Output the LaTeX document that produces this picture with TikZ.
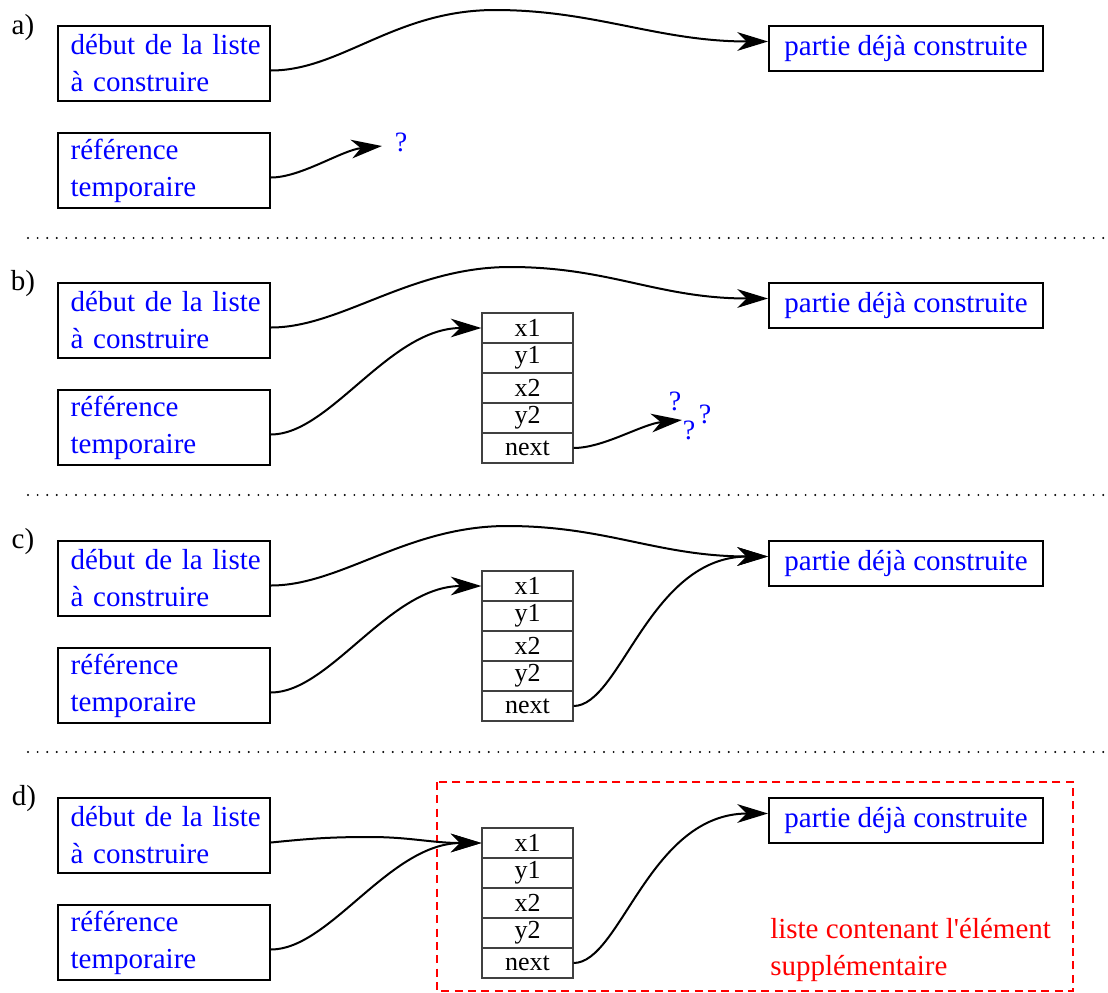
\documentclass[tikz,border=0pt]{standalone}
\usepackage{fontspec}
\setmainfont{Liberation Serif}[Ligatures=TeXOff]
\usetikzlibrary{arrows.meta}
\newcommand\bxfont{\fontsize{21.75pt}{27.75pt}\selectfont}
\newcommand\clfont{\fontsize{19.5pt}{22pt}\selectfont}
\newcommand\qmfont{\fontsize{21pt}{24pt}\selectfont}
\newcommand\lbfont{\fontsize{21.75pt}{24pt}\selectfont}
\begin{document}
\begin{tikzpicture}[x=0.75pt,y=-0.75pt,
  lbl/.style={font=\lbfont,inner sep=0pt},
  txtbox/.style={draw,line width=1.5pt,minimum width=159pt,minimum height=56.25pt,text width=140pt,inner xsep=9.5pt,align=left,text=blue,font=\bxfont},
  partbox/.style={draw,line width=1.5pt,minimum width=205.5pt,minimum height=33.75pt,inner sep=0pt,text=blue,font=\bxfont},
  cell/.style={draw=black!75,line width=0.9pt,minimum width=68.25pt,minimum height=22.5pt,inner sep=0pt,font=\clfont},
  ptr/.style={line width=1.5pt,-{Stealth[length=23pt,width=14pt,inset=7pt]}},
  qm/.style={text=blue,font=\qmfont,inner sep=0pt},
  sepline/.style={line width=1.6pt,line cap=round,dash pattern=on 0pt off 7.2pt},
  grp/.style={draw=red,line width=1.5pt,dash pattern=on 6pt off 4pt},
  grptext/.style={text=red,font=\bxfont,align=left,anchor=west,inner sep=0pt}]
\useasboundingbox (0,0) rectangle (1108,993);

% separators
\coordinate (s1a) at (28,238); \coordinate (s1b) at (1108,238);
\coordinate (s2a) at (28,495); \coordinate (s2b) at (1108,495);
\coordinate (s3a) at (28,752); \coordinate (s3b) at (1108,752);
\draw[sepline] (s1a) -- (s1b);
\draw[sepline] (s2a) -- (s2b);
\draw[sepline] (s3a) -- (s3b);

% ---------- panel a
\node[lbl] (la) at (23,28) {a)};
\node[txtbox] (aS) at (164,63.5) {\mbox{début de la liste}\\à construire};
\node[txtbox] (aT) at (164,170.5) {référence\\temporaire};
\node[partbox] (aP) at (906,48.5) {partie déjà construite};
\node[qm] (aq) at (401,142) {?};
\coordinate (apk) at (495,10);
\coordinate (aqt) at (382,146);
\draw[ptr] ([yshift=-5.25pt]aS.east) .. controls +(70,0) and +(-100,0) .. (apk) .. controls +(100,0) and +(-110,0) .. ([yshift=5.25pt]aP.west);
\draw[ptr] ([yshift=-5.25pt]aT.east) .. controls +(30,0) and +(-40,4) .. (aqt);

% ---------- panel b
\node[lbl] (lb) at (23,284) {b)};
\node[txtbox] (bS) at (164,320.5) {\mbox{début de la liste}\\à construire};
\node[txtbox] (bT) at (164,427.5) {référence\\temporaire};
\node[partbox] (bP) at (906,305.5) {partie déjà construite};
\foreach \t [count=\i] in {x1,y1,x2,y2,next}
  \node[cell] (bc\i) at (527.5,298+30*\i) {\t};
\node[qm] (bq1) at (675,401) {?};
\node[qm] (bq2) at (689,430) {?};
\node[qm] (bq3) at (705,414) {?};
\coordinate (bpk) at (510,267);
\coordinate (bqt) at (682,420);
\draw[ptr] ([yshift=-5.25pt]bS.east) .. controls +(70,0) and +(-100,0) .. (bpk) .. controls +(100,0) and +(-110,0) .. ([yshift=5.25pt]bP.west);
\draw[ptr] ([yshift=-5.25pt]bT.east) .. controls +(59,0) and +(-92,0) .. (bc1.west);
\draw[ptr] (bc5.east) .. controls +(30,0) and +(-40,4) .. (bqt);

% ---------- panel c
\node[lbl] (lc) at (23,542) {c)};
\node[txtbox] (cS) at (164,578.5) {\mbox{début de la liste}\\à construire};
\node[txtbox] (cT) at (164,685.5) {référence\\temporaire};
\node[partbox] (cP) at (906,563.5) {partie déjà construite};
\foreach \t [count=\i] in {x1,y1,x2,y2,next}
  \node[cell] (cc\i) at (527.5,556+30*\i) {\t};
\coordinate (cpk) at (507,526);
\draw[ptr] ([yshift=-5.25pt]cS.east) .. controls +(70,0) and +(-100,0) .. (cpk) .. controls +(100,0) and +(-110,0) .. ([yshift=5.25pt]cP.west);
\draw[ptr] ([yshift=-5.25pt]cT.east) .. controls +(59,0) and +(-92,0) .. (cc1.west);
\draw[ptr] (cc5.east) .. controls +(47,0) and +(-119,0) .. ([yshift=5.25pt]cP.west);

% ---------- panel d
\node[lbl] (ld) at (24,799) {d)};
\draw[grp] (437,782) rectangle (1073,991);
\node[txtbox] (dS) at (164,835.5) {\mbox{début de la liste}\\à construire};
\node[txtbox] (dT) at (164,942.5) {référence\\temporaire};
\node[partbox] (dP) at (906,820.5) {partie déjà construite};
\foreach \t [count=\i] in {x1,y1,x2,y2,next}
  \node[cell] (dc\i) at (527.5,813+30*\i) {\t};
\node[grptext] (dl) at (770,950) {liste contenant l'élément\\supplémentaire};
\coordinate (dh) at (370,837);
\draw[ptr] ([yshift=-5.25pt]dS.east) .. controls +(40,-4) and +(-40,0) .. (dh) .. controls +(40,0) and +(-50,0) .. (dc1.west);
\draw[ptr] ([yshift=-5.25pt]dT.east) .. controls +(59,0) and +(-92,0) .. (dc1.west);
\draw[ptr] (dc5.east) .. controls +(47,0) and +(-119,0) .. ([yshift=5.25pt]dP.west);
\end{tikzpicture}
\end{document}
